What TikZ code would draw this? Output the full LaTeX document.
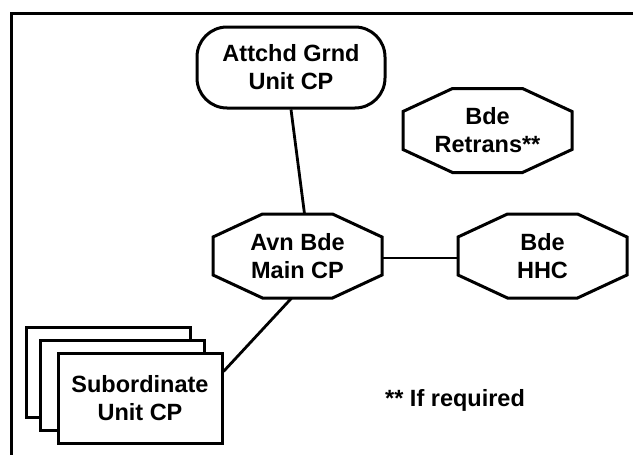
\documentclass[tikz,border=0pt]{standalone}
\usepackage{fontspec}
\setmainfont{Liberation Sans}
\usetikzlibrary{calc}
\begin{document}
\begin{tikzpicture}[x=1pt,y=-1pt,
  lbl/.style={font=\bfseries\fontsize{23.5}{28}\selectfont, align=center, inner sep=0pt},
  shp/.style={line width=3pt, line join=miter},
  conn/.style={line width=2.8pt},
  octbox/.style={lbl, minimum width=169pt, minimum height=84pt},
  rbox/.style={lbl, draw, shp, rounded corners=30pt, minimum width=188pt, minimum height=81pt},
  subbox/.style={lbl, draw, shp, fill=white, minimum width=164pt, minimum height=90pt}]
\useasboundingbox[fill=white] (0,0) rectangle (633,455);
% frame
\coordinate (fbl) at (11.5,455);
\coordinate (ftl) at (11.5,13.5);
\coordinate (ftr) at (633,13.5);
\draw[line width=3pt] (fbl) -- (ftl) -- (ftr);
% nodes
\node[rbox] (att) at (291,67.5) {Attchd Grnd\\Unit CP};
\node[octbox] (main) at (297.5,256) {Avn Bde\\Main CP};
\node[octbox] (ret) at (487.5,130.5) {Bde\\Retrans**};
\node[octbox] (hhc) at (542.5,256) {Bde\\HHC};
\foreach \n in {main,ret,hhc}
  \draw[shp] ([shift={(-35,-42)}]\n.center) -- ([shift={(35,-42)}]\n.center)
    -- ([shift={(84.5,-19)}]\n.center) -- ([shift={(84.5,19)}]\n.center)
    -- ([shift={(35,42)}]\n.center) -- ([shift={(-35,42)}]\n.center)
    -- ([shift={(-84.5,19)}]\n.center) -- ([shift={(-84.5,-19)}]\n.center) -- cycle;
% subordinate stack
\node[subbox] (sub3) at (108.5,372) {};
\node[subbox] (sub2) at (122.5,385.5) {};
\node[subbox] (sub) at (140,398) {Subordinate\\Unit CP};
% note
\node[lbl, anchor=west] (note) at (385,400) {** If required};
% connectors
\draw[conn] (att.south) -- ([xshift=7pt]main.north);
\draw[conn] ([yshift=-2pt]main.east) -- ([yshift=-2pt]hhc.west);
\draw[conn] ([xshift=-6pt]main.south) -- ([yshift=-20pt]sub.north east);
\end{tikzpicture}
\end{document}
